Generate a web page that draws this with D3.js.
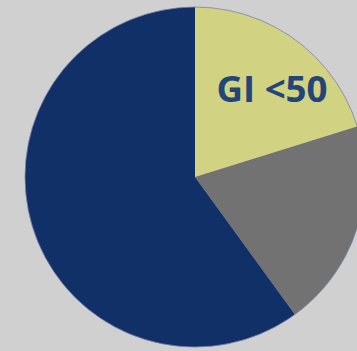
<!DOCTYPE html>
<html><head><meta charset="utf-8">
<script src="https://cdn.jsdelivr.net/npm/d3@7"></script>
<style>html,body{margin:0;padding:0;background:#d0d0d0;overflow:hidden}</style>
</head><body>
<svg id="c" width="357" height="351"></svg>
<script>
const categories = ["GI <50", "GI 50-70", "GI >70"];
const values = [20.2, 19.8, 60];
const colors = ["#d2d283", "#727272", "#113067"];
const labels = ["GI <50", "", ""];

const svg = d3.select("#c");
svg.append("rect").attr("width",357).attr("height",351).attr("fill","#d0d0d0");
const cx = 195, cy = 177, r = 170;
const g = svg.append("g").attr("transform",`translate(${cx},${cy})`);
const pie = d3.pie().sort(null).value(d=>d)(values);
const arc = d3.arc().innerRadius(0).outerRadius(r);
g.selectAll("path").data(pie).enter().append("path")
  .attr("d", arc).attr("fill",(d,i)=>colors[i]);
g.append("circle").attr("r", r).attr("fill","none").attr("stroke","#7880a8").attr("stroke-width",0.8);
svg.append("text").attr("x",272).attr("y",102).attr("text-anchor","middle")
  .attr("font-family","Open Sans").attr("font-weight",700).attr("font-size",35)
  .attr("textLength",111).attr("lengthAdjust","spacingAndGlyphs")
  .attr("fill","#22457a").text(labels[0]);
</script>
</body></html>
